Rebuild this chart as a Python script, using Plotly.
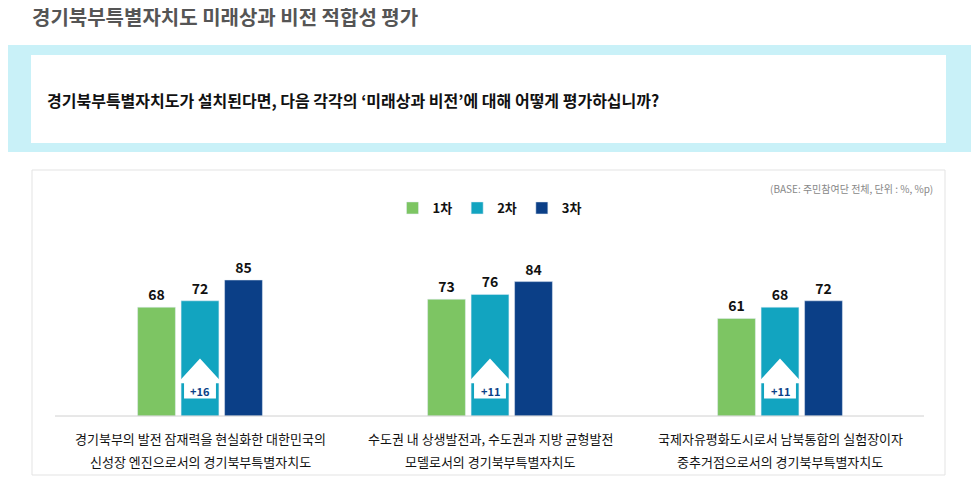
import plotly.graph_objects as go

W, H = 979, 477
OFF = 8  # page body margin offset

categories_line1 = ["경기북부의 발전 잠재력을 현실화한 대한민국의",
                    "수도권 내 상생발전과, 수도권과 지방 균형발전",
                    "국제자유평화도시로서 남북통합의 실험장이자"]
categories_line2 = ["신성장 엔진으로서의 경기북부특별자치도",
                    "모델로서의 경기북부특별자치도",
                    "중추거점으로서의 경기북부특별자치도"]
series_names = ["1차", "2차", "3차"]
round1 = [68, 73, 61]
round2 = [72, 76, 68]
round3 = [85, 84, 72]
changes = ["+16", "+11", "+11"]
colors = ["#7dc563", "#12a4c0", "#0b3f87"]

FONT = "Noto Sans CJK KR"

def px(x):  # pixel -> paper x
    return (x - OFF) / W

def py(y):  # pixel -> paper y
    return 1 - (y - OFF) / H

fig = go.Figure()
xs = [0, 1, 2]
for name, vals, col in zip(series_names, [round1, round2, round3], colors):
    fig.add_trace(go.Bar(
        x=xs, y=vals, name=name, marker_color=col,
        text=vals, textposition="outside", cliponaxis=False,
        textfont=dict(size=14, color="#111", family=FONT, weight="bold"),
    ))

shapes = [
    dict(type="rect", xref="paper", yref="paper", x0=-0.02, x1=1.02, y0=py(152), y1=py(45),
         fillcolor="#c9f1f8", line_width=0, layer="below"),
    dict(type="rect", xref="paper", yref="paper", x0=px(31), x1=px(946), y0=py(143), y1=py(55),
         fillcolor="white", line_width=0, layer="below"),
    dict(type="rect", xref="paper", yref="paper", x0=px(32), x1=px(945), y0=py(475), y1=py(170),
         fillcolor="white", line=dict(color="#e3e3e3", width=1), layer="below"),
    dict(type="line", xref="paper", yref="paper", x0=px(55), x1=px(924), y0=py(416), y1=py(416),
         line=dict(color="#d0d0d0", width=1)),
]

annotations = [
    dict(text="<b>경기북부특별자치도 미래상과 비전 적합성 평가</b>", xref="paper", yref="paper",
         x=px(30), y=py(17), xanchor="left", yanchor="middle", showarrow=False,
         font=dict(size=20, color="#555", family=FONT)),
    dict(text="<b>경기북부특별자치도가 설치된다면, 다음 각각의 ‘미래상과 비전’에 대해 어떻게 평가하십니까?</b>",
         xref="paper", yref="paper", x=px(45), y=py(100), xanchor="left", yanchor="middle",
         showarrow=False, font=dict(size=16, color="#111", family=FONT)),
    dict(text="(BASE: 주민참여단 전체, 단위 : %, %p)", xref="paper", yref="paper",
         x=px(935), y=py(188), xanchor="right", yanchor="middle", showarrow=False,
         font=dict(size=10, color="#888", family=FONT)),
]

for i, ch in enumerate(changes):
    for line, ypix in ((categories_line1[i], 438), (categories_line2[i], 461)):
        annotations.append(dict(text=line, x=i, y=py(ypix), xref="x", yref="paper", showarrow=False,
                                yanchor="middle", font=dict(size=13, color="#111", family=FONT)))
    path = (f"M {i-0.055},11 L {i+0.055},11 L {i+0.055},20.5 L {i+0.078},20.5 "
            f"L {i},36 L {i-0.078},20.5 L {i-0.055},20.5 Z")
    shapes.append(dict(type="path", xref="x", yref="y", path=path,
                       fillcolor="white", line_width=0))
    annotations.append(dict(text=f"<b>{ch}</b>", x=i, y=15.5, xref="x", yref="y",
                            showarrow=False, font=dict(size=11, color="#0b3f87", family=FONT)))

fig.update_layout(
    width=W, height=H,
    margin=dict(l=0, r=0, t=0, b=0),
    paper_bgcolor="white", plot_bgcolor="rgba(0,0,0,0)",
    barmode="group", bargap=0.55, bargroupgap=0.13,
    font=dict(family=FONT),
    xaxis=dict(domain=[px(55), px(925)], range=[-0.5, 2.5], showticklabels=False,
               showgrid=False, zeroline=False),
    yaxis=dict(domain=[py(416), py(256)], range=[0, 100], visible=False),
    legend=dict(orientation="h", x=px(490), y=py(208), xanchor="center", yanchor="middle",
                font=dict(size=13, color="#111", family=FONT, weight="bold"),
                itemwidth=30, traceorder="normal", bgcolor="rgba(0,0,0,0)"),
    shapes=shapes, annotations=annotations,
)

fig.write_html("out.html")
